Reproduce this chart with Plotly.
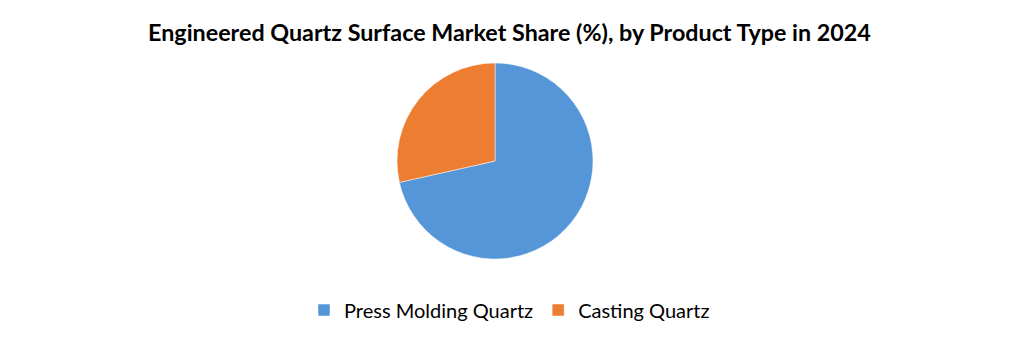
import plotly.graph_objects as go

categories = ["Press Molding Quartz", "Casting Quartz"]
shares = [71.5, 28.5]
colors = ["#5596D8", "#ED7D31"]

W, H = 1019, 342
cx, cy, r = 495, 161, 98

fig = go.Figure(go.Pie(
    labels=categories,
    values=shares,
    sort=False,
    direction="clockwise",
    rotation=0,
    marker=dict(colors=colors, line=dict(color="white", width=0.5)),
    textinfo="none",
    hoverinfo="label+percent",
    domain=dict(x=[(cx - r) / W, (cx + r) / W], y=[(H - cy - r) / H, (H - cy + r) / H]),
))

fig.update_layout(
    width=W, height=H,
    margin=dict(l=0, r=0, t=0, b=0),
    paper_bgcolor="white",
    plot_bgcolor="white",
    title=dict(
        text="<b>Engineered Quartz Surface Market Share (%), by Product Type in 2024</b>",
        x=0.5, xanchor="center", y=1 - 33 / H, yanchor="middle",
        font=dict(family="Lato", size=23.3, color="#000000"),
    ),
    legend=dict(
        orientation="h", x=0.5, xanchor="center", y=1 - 310 / H, yanchor="middle",
        font=dict(family="Lato", size=20, color="#000000"),
        itemwidth=30,
        traceorder="normal",
    ),
)

fig.write_html("out.html")
